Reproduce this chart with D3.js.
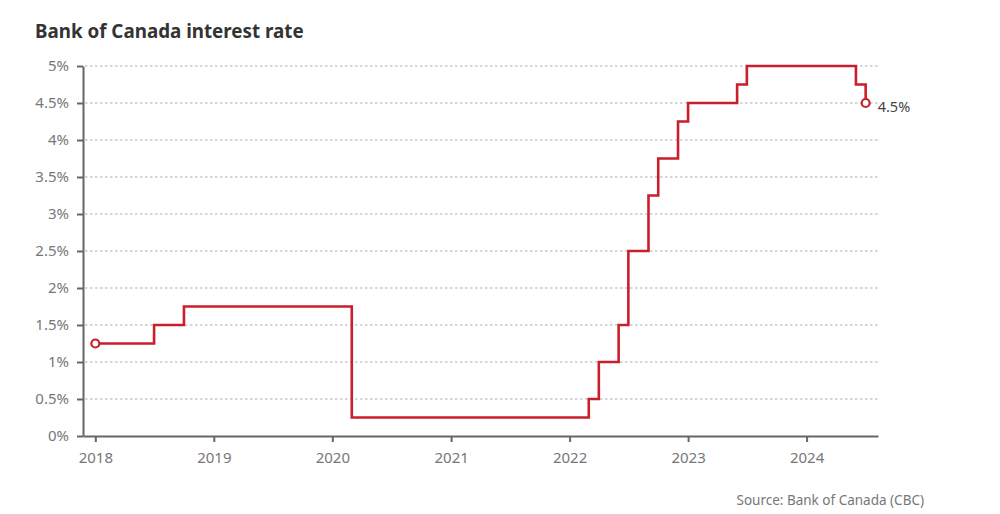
<!DOCTYPE html>
<html><head><meta charset="utf-8">
<script src="https://cdn.jsdelivr.net/npm/d3@7"></script>
<style>
body{margin:0;background:#fff;}
svg{display:block;font-family:"Noto Sans",sans-serif;}
</style></head>
<body><svg id="c" width="1000" height="514"></svg>
<script>
const changeDates = ["2018-01-01","2018-07-01","2018-10-01","2020-03-01","2022-03-01","2022-04-01","2022-06-01","2022-07-01","2022-09-01","2022-10-01","2022-12-01","2023-01-01","2023-06-01","2023-07-01","2024-06-01","2024-07-01"];
const rates = [1.25,1.5,1.75,0.25,0.5,1.0,1.5,2.5,3.25,3.75,4.25,4.5,4.75,5.0,4.75,4.5];
const yTicks = [0,0.5,1,1.5,2,2.5,3,3.5,4,4.5,5];
const xTickYears = [2018,2019,2020,2021,2022,2023,2024];
const xDomain = ["2017-11-24","2024-08-08"];
const title = "Bank of Canada interest rate";
const source = "Source: Bank of Canada (CBC)";

const parse = d3.timeParse("%Y-%m-%d");
const data = changeDates.map((d,i)=>({date:parse(d), v:rates[i]}));
const svg = d3.select("#c");
const m = {l:83, r:878, t:66, b:436};
const x = d3.scaleTime().domain(xDomain.map(parse)).range([m.l, m.r]);
const y = d3.scaleLinear().domain([0,5]).range([m.b, m.t]);
const fmt = v => d3.format("")(v) + "%";

svg.append("text").attr("x",35).attr("y",38).text(title)
  .attr("font-size",18.8).attr("font-weight",700).attr("fill","#333");

// grid
svg.append("g").selectAll("line").data(yTicks.filter(t=>t>0)).join("line")
  .attr("x1",m.l+2).attr("x2",m.r).attr("y1",d=>y(d)).attr("y2",d=>y(d))
  .attr("stroke","#a3b0b9").attr("stroke-width",1.2).attr("stroke-dasharray","2.5,2.5");

// y axis
const ya = svg.append("g").attr("transform",`translate(${m.l},0)`)
  .call(d3.axisLeft(y).tickValues(yTicks).tickFormat(fmt).tickSize(6).tickSizeOuter(0).tickPadding(8));
ya.attr("font-size",15).attr("font-family","Noto Sans");
ya.select(".domain").attr("stroke","#666").attr("stroke-width",2);
ya.selectAll(".tick line").attr("stroke","#666").attr("stroke-width",2);
ya.selectAll(".tick text").attr("fill","#777");

// x axis
const xa = svg.append("g").attr("transform",`translate(0,${m.b})`)
  .call(d3.axisBottom(x).tickValues(xTickYears.map(yr=>new Date(yr,0,1))).tickFormat(d3.timeFormat("%Y")).tickSize(6).tickSizeOuter(0).tickPadding(10));
xa.attr("font-size",15).attr("font-family","Noto Sans");
xa.select(".domain").attr("stroke","#666").attr("stroke-width",2);
xa.selectAll(".tick line").attr("stroke","#666").attr("stroke-width",2);
xa.selectAll(".tick text").attr("fill","#777");

// line
const line = d3.line().x(d=>x(d.date)).y(d=>y(d.v)).curve(d3.curveStepAfter);
svg.append("path").datum(data).attr("d",line).attr("fill","none")
  .attr("stroke","#c91f2d").attr("stroke-width",2.6).attr("stroke-linejoin","miter");

const ends = [data[0], data[data.length-1]];
svg.selectAll("circle.e").data(ends).join("circle")
  .attr("cx",d=>x(d.date)).attr("cy",d=>y(d.v)).attr("r",4)
  .attr("fill","#fff").attr("stroke","#c91f2d").attr("stroke-width",2.2);

const last = data[data.length-1];
svg.append("text").attr("x",x(last.date)+12).attr("y",y(last.v)+9).text(fmt(last.v))
  .attr("font-size",14.5).attr("fill","#444");

svg.append("text").attr("x",924).attr("y",505).attr("text-anchor","end").text(source)
  .attr("font-size",13.5).attr("fill","#777");
</script></body></html>
